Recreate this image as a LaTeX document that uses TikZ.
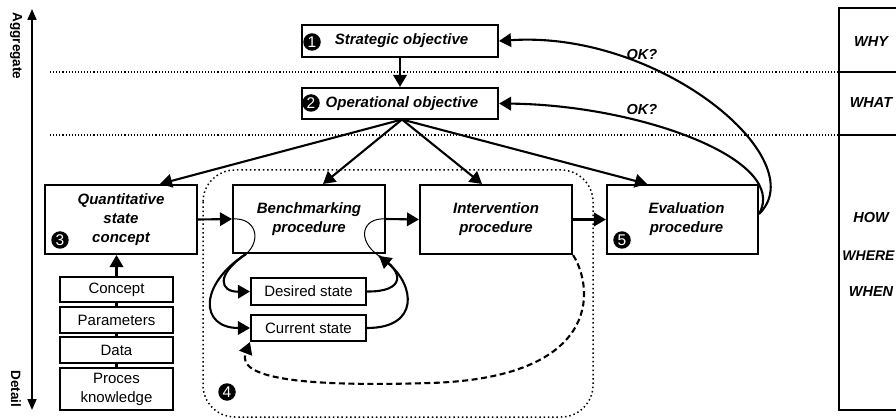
\documentclass[tikz,border=0pt]{standalone}
\usepackage{fontspec}
\setmainfont{Liberation Sans}
\usetikzlibrary{arrows.meta,calc}
\begin{document}
\begin{tikzpicture}[x=1pt,y=-1pt,
  box/.style={draw, line width=2.1pt, inner sep=0pt, align=center},
  bigbox/.style={box, font=\fontsize{15}{19}\selectfont\bfseries\itshape},
  smallbox/.style={box, font=\fontsize{15}{18}\selectfont},
  num/.style={circle, fill=black, text=white, inner sep=0pt, minimum size=17.5pt, font=\fontsize{15.5}{15.5}\selectfont},
  arr/.style={line width=2.1pt, -{Triangle[length=12pt,width=13.5pt]}},
  thinl/.style={line width=1pt},
  thickl/.style={line width=2.1pt},
  lvl/.style={font=\fontsize{14.5}{16}\selectfont\bfseries\itshape},
  sep/.style={line width=1.1pt, dash pattern=on 1.1pt off 2pt},
]
\useasboundingbox (0,0) rectangle (896,419);
\clip (0,0) rectangle (896,419);
\fill[white] (0,0) rectangle (896,419);

% axis
\coordinate (axtop) at (32,9);
\coordinate (axbot) at (32,410);
\draw[line width=1.6pt, {Triangle[length=11pt,width=9pt]}-{Triangle[length=11pt,width=9pt]}] (axtop) -- (axbot);
\node[rotate=-90, font=\fontsize{13.5}{13.5}\selectfont\bfseries] (agg) at (16,46) {Aggregate};
\node[rotate=-90, font=\fontsize{13.5}{13.5}\selectfont\bfseries] (det) at (16,389) {Detail};

% separators
\coordinate (s1a) at (50,72); \coordinate (s1b) at (839,72);
\coordinate (s2a) at (50,135); \coordinate (s2b) at (839,135);
\draw[sep] (s1a) -- (s1b);
\draw[sep] (s2a) -- (s2b);

% right column
\coordinate (rc1) at (896,8); \coordinate (rc2) at (896,410);
\draw[line width=1.4pt] (rc1) -- (839,8) -- (839,410) -- (rc2);
\draw[line width=1.4pt] (s1b) -- (896,72);
\draw[line width=1.4pt] (s2b) -- (896,135);
\node[lvl] (why) at (871,42) {WHY};
\node[lvl] (what) at (871,103) {WHAT};
\node[lvl] (how) at (871,218) {HOW};
\node[lvl, font=\fontsize{14}{16}\selectfont\bfseries\itshape] (where) at (868.5,256) {WHERE};
\node[lvl] (when) at (871,292) {WHEN};

% dotted region 4
\draw[line width=1.5pt, dash pattern=on 1.5pt off 2.8pt, rounded corners=32pt] (203,170) rectangle (593,417);
\node[num] (n4) at (227,392) {4};

% objectives
\node[bigbox, minimum width=196pt, minimum height=32pt] (strat) at (400,41) {\hspace*{3pt}Strategic objective};
\node[bigbox, minimum width=196pt, minimum height=31pt] (oper) at (400,103.5) {\hspace*{4pt}Operational objective};
\node[num] (n1) at (312,42) {1};
\node[num] (n2) at (311,103) {2};

% process boxes
\node[bigbox, minimum width=152pt, minimum height=69pt] (quant) at (121,219.5) {Quantitative\\state\\concept};
\node[bigbox, minimum width=152pt, minimum height=68pt] (bench) at (309,219) {Benchmarking\\procedure};
\node[bigbox, minimum width=152pt, minimum height=69pt] (interv) at (496,219.5) {Intervention\\procedure};
\node[bigbox, minimum width=151pt, minimum height=69pt] (eval) at (682.5,219.5) {\hspace*{8pt}Evaluation\\\hspace*{8pt}procedure};
\node[num] (n3) at (60,240) {3};
\node[num] (n5) at (622,240) {5};

% states
\node[smallbox, minimum width=115pt, minimum height=27pt] (desired) at (308.5,291.5) {Desired state};
\node[smallbox, minimum width=115pt, minimum height=26pt] (current) at (308.5,328) {Current state};

% concept stack
\node[smallbox, minimum width=113pt, minimum height=25pt] (concept) at (116.5,289.5) {Concept};
\node[smallbox, minimum width=113pt, minimum height=26pt] (params) at (116.5,320) {Parameters};
\node[smallbox, minimum width=113pt, minimum height=26pt] (data) at (116.5,350) {Data};
\node[smallbox, minimum width=113pt, minimum height=42pt, font=\fontsize{15}{19}\selectfont] (proces) at (116.5,389) {Proces\\knowledge};
\draw[thickl] (concept.south) -- (params.north);
\draw[thickl] (params.south) -- (data.north);
\draw[thickl] (data.south) -- (proces.north);
\draw[arr] (concept.north) -- (concept.north |- quant.south);

% main arrows
\draw[arr] (strat.south) -- (oper.north);
\coordinate (fan) at (402,119.5);
\draw[arr] (fan) -- ([xshift=39pt]quant.north);
\draw[arr] (fan) -- ([xshift=14pt]bench.north);
\draw[arr] (fan) -- ([xshift=-14pt]interv.north);
\draw[arr] (fan) -- ([xshift=-35.5pt]eval.north);
\draw[arr] (quant.east) -- (bench.west);
\draw[arr] (bench.east) -- (interv.west);
\draw[arr] (interv.east) -- (eval.west);

% feedback
\coordinate (fb) at (759,214);
\draw[arr] (fb) .. controls (815,160) and (660,30) .. (strat.east);
\draw[arr] (fb) .. controls (790,160) and (640,105) .. (oper.east);
\node[lvl] (ok1) at (642,55) {OK?};
\node[lvl] (ok2) at (642,110) {OK?};

% benchmarking internal
\coordinate (bl) at (246,254);
\coordinate (br) at (379,256);
\draw[thinl] (bench.west) .. controls (256,217) and (262,240) .. (bl);
\draw[arr] (bl) .. controls (215,275) and (220,292) .. (desired.west);
\draw[arr] (bl) .. controls (198,285) and (200,328) .. (current.west);
\draw[thinl] (bench.east) .. controls (362,217) and (356,240) .. (br);
\draw[thickl] (desired.east) .. controls (405,292) and (405,272) .. (br);
\draw[arr] (current.east) .. controls (420,328) and (415,285) .. (br);

% dashed feedback
\draw[line width=2.1pt, dash pattern=on 6pt off 3.5pt, -{Triangle[length=12pt,width=13.5pt]}]
  (interv.south east) .. controls (595,290) and (600,378) .. (430,383)
  .. controls (300,387) and (236,378) .. (current.south west);
\end{tikzpicture}
\end{document}
